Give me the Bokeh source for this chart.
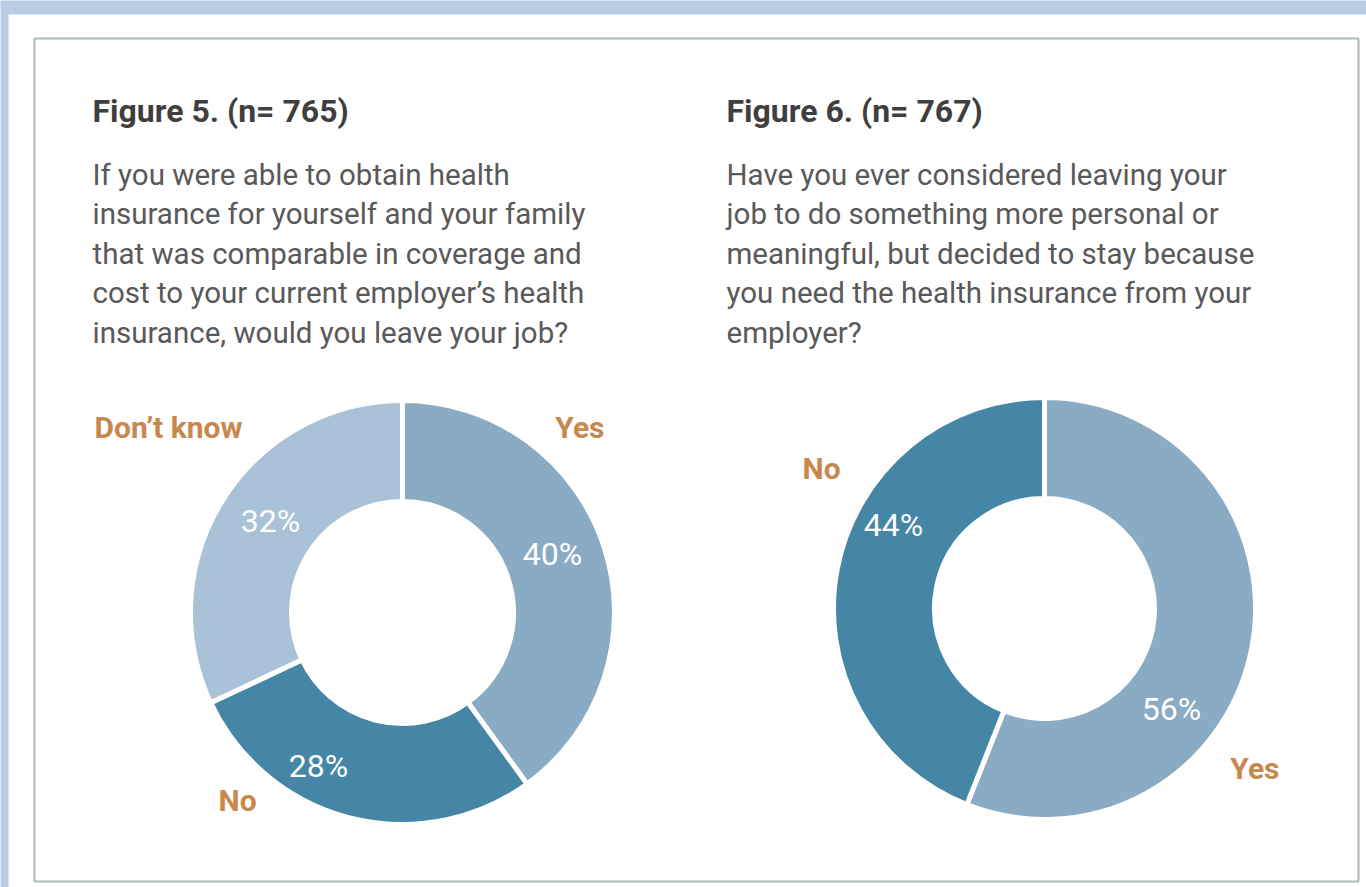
import math
from bokeh.plotting import figure
from bokeh.models import Range1d, ColumnDataSource
from bokeh.core.properties import value
from bokeh.embed import file_html
from bokeh.resources import INLINE

# ---------------- data ----------------
fig5_title = "Figure 5. (n= 765)"
fig5_question = [
    "If you were able to obtain health",
    "insurance for yourself and your family",
    "that was comparable in coverage and",
    "cost to your current employer\u2019s health",
    "insurance, would you leave your job?",
]
fig5_labels = ["Yes", "No", "Don\u2019t know"]
fig5_values = [40, 28, 32]

fig6_title = "Figure 6. (n= 767)"
fig6_question = [
    "Have you ever considered leaving your",
    "job to do something more personal or",
    "meaningful, but decided to stay because",
    "you need the health insurance from your",
    "employer?",
]
fig6_labels = ["Yes", "No"]
fig6_values = [56, 44]

# ---------------- styling / layout ----------------
W, H = 1366, 887
PAGE_BLUE = "#b8cce4"
ORANGE = "#c8874c"
slice_colors = {"Yes": "#8aabc4", "No": "#4585a6", "Don\u2019t know": "#a9c2d8"}
FONT = "Roboto"


def sy(y_screen):
    # screen y -> data y (data origin at bottom)
    return H - y_screen


def sx(x_screen):
    return x_screen


p = figure(width=W, height=H, x_range=Range1d(0, W), y_range=Range1d(0, H),
           output_backend="svg", toolbar_location=None,
           x_axis_type=None, y_axis_type=None, min_border=0)
p.grid.visible = False
p.outline_line_color = None
p.background_fill_color = PAGE_BLUE
p.border_fill_color = PAGE_BLUE

# white panel and framed box
p.quad(left=[sx(8)], right=[sx(1366)], bottom=[sy(887)], top=[sy(14)],
       fill_color="white", line_color=None)
p.quad(left=[sx(34)], right=[sx(1358)], bottom=[sy(881)], top=[sy(38)],
       fill_color=None, line_color="#a9b9b9", line_width=2)


def donut(labels, values, cx, cy, r_in, r_out):
    total = float(sum(values))
    starts, ends, cols = [], [], []
    cum = 0.0
    for lab, v in zip(labels, values):
        a_top = math.pi / 2 - 2 * math.pi * cum / total
        cum += v
        a_bot = math.pi / 2 - 2 * math.pi * cum / total
        starts.append(a_bot)
        ends.append(a_top)
        cols.append(slice_colors[lab])
    src = ColumnDataSource(dict(start=starts, end=ends, color=cols,
                                x=[cx] * len(values), y=[cy] * len(values)))
    p.annular_wedge(x="x", y="y", inner_radius=r_in, outer_radius=r_out,
                    start_angle="start", end_angle="end", direction="anticlock",
                    fill_color="color", line_color="white", line_width=5,
                    source=src)


def texts(xs, ys, ts, size, color, style="normal", align="left"):
    p.text(x=xs, y=ys, text=ts, text_font=value(FONT),
           text_font_size=value(size), text_color=color,
           text_font_style=style, text_align=align, text_baseline="middle")


line_ys = [174, 213.5, 253, 292.5, 332]
TITLE_Y = 110

# ---- Figure 5 ----
texts([sx(92)], [sy(TITLE_Y)], [fig5_title], "32px", "#3f3f3f", "bold")
texts([sx(92)] * 5, [sy(y) for y in line_ys], fig5_question, "29.5px", "#595959")
donut(fig5_labels, fig5_values, sx(402), sy(612), 111, 212)
pct5_pos = {"Yes": (552, 553), "No": (318, 765), "Don\u2019t know": (270, 520)}
texts([sx(pct5_pos[l][0]) for l in fig5_labels], [sy(pct5_pos[l][1]) for l in fig5_labels],
      [f"{v}%" for v in fig5_values], "32px", "white", "normal", "center")
cat5_pos = {"Yes": (604, 427, "right"), "No": (218, 800, "left"), "Don\u2019t know": (94, 427, "left")}
for l in fig5_labels:
    xx, yy, al = cat5_pos[l]
    texts([sx(xx)], [sy(yy)], [l], "30px", ORANGE, "bold", al)

# ---- Figure 6 ----
texts([sx(726)], [sy(TITLE_Y)], [fig6_title], "32px", "#3f3f3f", "bold")
texts([sx(726)] * 5, [sy(y) for y in line_ys], fig6_question, "29.5px", "#595959")
donut(fig6_labels, fig6_values, sx(1044), sy(608), 110, 211)
pct6_pos = {"Yes": (1171, 708), "No": (893, 524)}
texts([sx(pct6_pos[l][0]) for l in fig6_labels], [sy(pct6_pos[l][1]) for l in fig6_labels],
      [f"{v}%" for v in fig6_values], "32px", "white", "normal", "center")
cat6_pos = {"Yes": (1279, 768, "right"), "No": (802, 468, "left")}
for l in fig6_labels:
    xx, yy, al = cat6_pos[l]
    texts([sx(xx)], [sy(yy)], [l], "30px", ORANGE, "bold", al)

open("out.html", "w").write(file_html(p, INLINE))
